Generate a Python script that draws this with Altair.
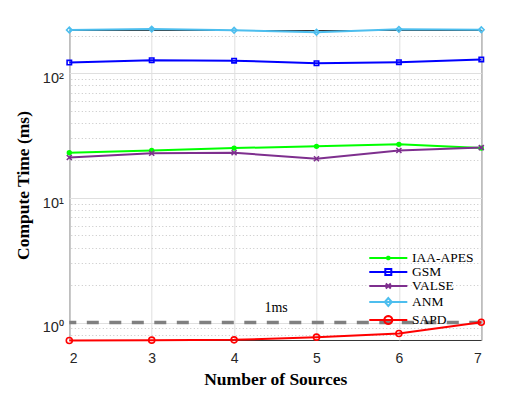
import math
import altair as alt
import pandas as pd

# ---- data ----
sources = [2, 3, 4, 5, 6, 7]
series_names = ["IAA-APES", "GSM", "VALSE", "ANM", "SAPD"]
iaa_apes = [23.0, 24.0, 25.1, 25.9, 26.9, 25.1]
gsm = [121.6, 127.0, 126.0, 120.2, 122.5, 129.0]
valse = [21.1, 22.8, 23.0, 20.6, 24.0, 25.3]
anm = [222.0, 226.0, 221.0, 213.0, 225.0, 223.0]
sapd = [0.718, 0.723, 0.727, 0.764, 0.817, 1.006]
threshold = [1.0]
threshold_label = ["1ms"]
threshold_label_pos = [4.51, 1.30]

colors = ["#00ff00", "#0000ff", "#7e2f8e", "#4dbeee", "#ff0000"]

rows = []
for name, vals in zip(series_names, [iaa_apes, gsm, valse, anm, sapd]):
    for xv, yv in zip(sources, vals):
        rows.append({"x": xv, "y": yv, "series": name})
df = pd.DataFrame(rows)
df_label = pd.DataFrame({"x": [threshold_label_pos[0]], "y": [threshold_label_pos[1]], "t": threshold_label})
df_thr = pd.DataFrame({"y": threshold})

Y_DOMAIN = [0.725, 222]
xscale = alt.Scale(domain=[2, 7], nice=False, zero=False)
yscale = alt.Scale(type="log", domain=Y_DOMAIN, nice=False)

SERIF = "Liberation Serif"
SANS = "Liberation Sans"


def circ(r, n=20):
    pts = []
    for i in range(n):
        a = 2 * math.pi * i / n
        pts.append(f"{round(r * math.cos(a), 3)},{round(r * math.sin(a), 3)}")
    return "M" + "L".join(pts) + "Z"


# legend symbol unit: symbolSize 144 -> 1 unit = 6 px
LINE = "M-3.17,0H3.17"
legend_shapes = [
    LINE + circ(0.23, 10),
    LINE + "M-0.5,-0.5H0.5V0.5H-0.5Z",
    LINE + "M-0.42,-0.42L0.42,0.42M-0.42,0.42L0.42,-0.42",
    LINE + "M-0.58,0L0,-0.67L0.58,0L0,0.67Z",
    LINE + circ(0.67),
]
point_shapes = ["circle", "square", "M-1,-1L1,1M-1,1L1,-1", "diamond", "circle"]
point_sizes = [14, 36, 25, 49, 45]
point_fills = ["#00ff00", "transparent", "transparent", "transparent", "transparent"]

x_axis = alt.Axis(values=sources, format="d", grid=True, gridColor="#dfdfdf", gridWidth=1,
                  domain=False, ticks=False, labelFont=SANS, labelFontSize=14, labelColor="#262626",
                  labelBaseline="alphabetic", labelPadding=23,
                  title="Number of Sources", titleFont=SERIF, titleFontSize=17.5, titleFontWeight="bold",
                  titleColor="#000000", titleBaseline="alphabetic", titleY=44.5)
y_axis = alt.Axis(values=[1, 10, 100],
                  labelExpr="datum.value === 1 ? '10⁰' : (datum.value === 10 ? '10¹' : '10²')",
                  grid=True, gridColor="#dfdfdf", gridWidth=1, domain=False, ticks=False,
                  labelFont=SANS, labelFontSize=14.5, labelColor="#262626", labelPadding=6,
                  labelBaseline="alphabetic", labelOffset=9.4,
                  title="Compute Time (ms)", titleFont=SERIF, titleFontSize=17.5, titleFontWeight="bold",
                  titleColor="#000000", titleAngle=270, titleBaseline="alphabetic", titleX=-41, titleY=155,
                  titleAlign="center")
minor_vals = [0.8, 0.9, 2, 3, 4, 5, 6, 7, 8, 9, 20, 30, 40, 50, 60, 70, 80, 90, 200]
y_minor_axis = alt.Axis(orient="right", values=minor_vals, grid=True, gridColor="#c4c4c4",
                        gridDash=[1, 2.5], gridWidth=1, labels=False, ticks=False, domain=False, title=None)

base = alt.Chart(df)

lines = base.mark_line(strokeWidth=2, clip=False).encode(
    x=alt.X("x:Q", scale=xscale, axis=x_axis),
    y=alt.Y("y:Q", scale=yscale, axis=y_axis),
    color=alt.Color("series:N", scale=alt.Scale(domain=series_names, range=colors), legend=None),
    order=alt.Order("x:Q"),
)

points = base.mark_point(strokeWidth=1.6, opacity=1, clip=False).encode(
    x=alt.X("x:Q", scale=xscale),
    y=alt.Y("y:Q", scale=yscale, axis=None),
    stroke=alt.Stroke("series:N", scale=alt.Scale(domain=series_names, range=colors), legend=None),
    fill=alt.Fill("series:N", scale=alt.Scale(domain=series_names, range=point_fills), legend=None),
    shape=alt.Shape("series:N", scale=alt.Scale(domain=series_names, range=point_shapes), legend=None),
    size=alt.Size("series:N", scale=alt.Scale(domain=series_names, range=point_sizes), legend=None),
)

thr = alt.Chart(df_thr).mark_rule(color="#808080", strokeWidth=3.5, strokeDash=[12, 10.5]).encode(
    y=alt.Y("y:Q", scale=yscale, axis=None),
)

label = alt.Chart(df_label).mark_text(font=SERIF, fontSize=14, color="#000000", baseline="middle").encode(
    x=alt.X("x:Q", scale=xscale),
    y=alt.Y("y:Q", scale=yscale, axis=y_minor_axis),
    text="t:N",
)

leg = alt.Legend(title=None, orient="none", legendX=312, legendY=221,
                 symbolSize=144, symbolStrokeWidth=2, labelFont=SERIF,
                 labelFontSize=13.5, labelColor="#000000", labelOffset=16.7,
                 rowPadding=0, padding=0)
legend_layer = base.transform_filter("false").mark_point(filled=False, opacity=1, strokeWidth=2).encode(
    color=alt.Color("series:N", scale=alt.Scale(domain=series_names, range=colors), legend=leg),
    shape=alt.Shape("series:N", scale=alt.Scale(domain=series_names, range=legend_shapes), legend=leg),
)

chart = alt.layer(thr, lines, points, label, legend_layer).resolve_scale(
    color="independent", shape="independent"
).resolve_axis(y="independent").properties(
    width=412, height=310,
    autosize=alt.AutoSizeParams(type="none"),
    padding={"left": 61.3, "top": 22, "right": 30, "bottom": 60},
    background="white",
).configure_view(stroke="#333333", strokeWidth=1)

chart.save("out.html", embed_options={"renderer": "svg", "actions": False})
